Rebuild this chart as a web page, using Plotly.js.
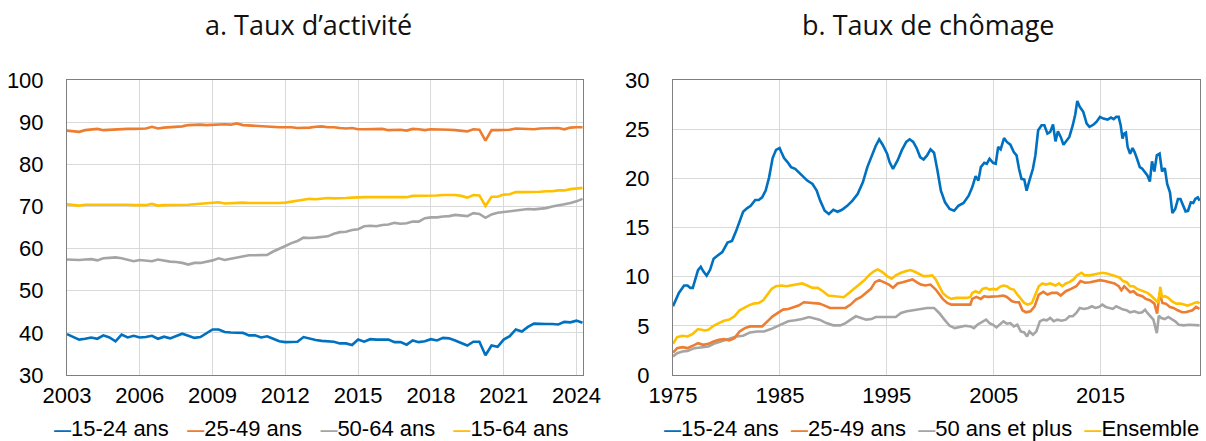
<!DOCTYPE html>
<html>
<head>
<meta charset="utf-8">
<script src="https://cdn.plot.ly/plotly-3.0.1.min.js"></script>
<style>
html,body{margin:0;padding:0;background:#fff;}
#chart{width:1206px;height:441px;}
</style>
</head>
<body>
<div id="chart"></div>
<script>
// ---------- Panel a: Taux d'activité (quarterly, 2003Q1 - 2024Q2) ----------
const actStart = 2003; // first quarter = 2003Q1
const act1524 = [39.7,39.0,38.4,38.6,38.9,38.6,39.4,38.9,38.0,39.6,38.9,39.3,38.9,39.0,39.3,38.6,39.1,38.7,39.2,39.8,39.3,38.8,39.0,39.8,40.8,40.8,40.2,40.1,40.0,40.0,39.4,39.4,38.9,39.2,38.6,38.0,37.8,37.8,37.9,39.0,38.6,38.3,38.1,38.0,37.9,37.5,37.5,37.1,38.4,37.9,38.5,38.4,38.4,38.4,37.8,37.8,37.2,38.2,37.8,38.0,38.5,38.2,38.8,38.7,38.2,37.6,37.0,37.9,37.9,34.7,37.0,36.7,38.4,39.2,40.8,40.3,41.4,42.2,42.1,42.1,42.1,42.0,42.6,42.5,42.9,42.4];
const act2549 = [88.0,87.9,87.7,88.1,88.2,88.4,88.1,88.2,88.2,88.3,88.4,88.4,88.5,88.5,88.9,88.5,88.7,88.8,88.9,89.0,89.3,89.4,89.4,89.3,89.4,89.4,89.5,89.4,89.7,89.3,89.2,89.2,89.1,88.9,88.8,88.8,88.8,88.8,88.6,88.6,88.7,88.9,89.0,88.8,88.8,88.6,88.5,88.6,88.3,88.3,88.3,88.3,88.4,88.1,88.1,88.2,88.0,88.4,88.3,88.1,88.3,88.3,88.2,88.2,88.1,88.0,87.8,88.3,88.2,85.6,88.1,88.1,88.1,88.2,88.5,88.4,88.4,88.3,88.5,88.5,88.6,88.6,88.3,88.7,88.8,88.8];
const act5064 = [57.4,57.3,57.3,57.4,57.5,57.2,57.7,57.8,57.9,57.7,57.4,57.0,57.3,57.2,57.0,57.4,57.1,56.9,56.8,56.6,56.2,56.6,56.6,56.9,57.2,57.7,57.3,57.6,57.9,58.2,58.4,58.4,58.4,58.5,59.3,59.9,60.6,61.3,61.8,62.6,62.5,62.6,62.8,62.9,63.5,63.9,64.0,64.4,64.6,65.3,65.4,65.3,65.6,65.7,66.1,65.9,66.0,66.4,66.4,67.2,67.4,67.4,67.6,67.7,68.0,67.9,67.7,68.4,68.2,67.3,68.1,68.5,68.7,68.9,69.1,69.3,69.4,69.3,69.5,69.6,70.0,70.2,70.5,70.8,71.2,71.8];
const act1564 = [70.5,70.3,70.2,70.4,70.4,70.4,70.4,70.5,70.4,70.4,70.4,70.3,70.3,70.3,70.6,70.2,70.3,70.3,70.4,70.4,70.4,70.5,70.6,70.8,70.9,71.0,70.7,70.8,70.9,70.9,70.8,70.8,70.7,70.7,70.7,70.8,70.9,71.1,71.3,71.5,71.8,71.7,71.8,72.0,71.9,71.9,72.0,72.1,72.2,72.2,72.2,72.2,72.3,72.3,72.3,72.3,72.2,72.5,72.5,72.5,72.6,72.6,72.7,72.7,72.7,72.5,72.1,72.7,72.6,70.1,72.3,72.3,72.8,72.9,73.4,73.4,73.4,73.5,73.5,73.6,73.6,73.8,73.8,74.1,74.2,74.4];
const actTicks = [2003,2006,2009,2012,2015,2018,2021,2024];

// ---------- Panel b: Taux de chômage ----------
const ch1524Year = [1975.00,1975.55,1976.04,1976.36,1976.62,1976.85,1977.34,1977.60,1977.82,1978.15,1978.47,1978.80,1979.12,1979.61,1980.10,1980.52,1980.91,1981.30,1981.56,1981.95,1982.27,1982.69,1983.02,1983.34,1983.67,1983.99,1984.32,1984.64,1984.97,1985.13,1985.39,1985.71,1986.04,1986.43,1986.75,1987.14,1987.56,1988.05,1988.44,1988.77,1989.19,1989.58,1990.00,1990.39,1990.81,1991.30,1991.79,1992.27,1992.76,1993.18,1993.57,1993.96,1994.29,1994.61,1995.03,1995.26,1995.58,1996.01,1996.40,1996.82,1997.14,1997.47,1997.79,1998.12,1998.44,1998.77,1999.09,1999.42,1999.74,2000.06,2000.45,2000.88,2001.30,2001.69,2002.18,2002.66,2002.99,2003.31,2003.57,2003.80,2004.12,2004.35,2004.61,2004.94,2005.19,2005.42,2005.65,2005.97,2006.23,2006.56,2006.88,2007.14,2007.37,2007.60,2007.86,2008.08,2008.34,2008.67,2008.90,2009.16,2009.48,2009.74,2010.03,2010.29,2010.55,2010.78,2011.01,2011.27,2011.53,2011.82,2012.08,2012.40,2012.63,2012.82,2013.05,2013.38,2013.70,2013.96,2014.35,2014.61,2014.94,2015.26,2015.65,2015.97,2016.23,2016.46,2016.69,2016.88,2017.05,2017.21,2017.37,2017.53,2017.76,2017.99,2018.18,2018.41,2018.67,2018.90,2019.12,2019.38,2019.61,2019.81,2020.03,2020.26,2020.52,2020.75,2021.01,2021.23,2021.49,2021.72,2021.98,2022.24,2022.47,2022.69,2022.95,2023.18,2023.44,2023.67,2023.86,2024.09,2024.25];
const ch1524 = [7.0,8.35,9.1,9.1,8.86,8.86,10.67,11.0,10.57,10.1,10.7,11.83,12.1,12.5,13.47,13.64,14.66,15.85,16.6,16.98,17.2,17.8,17.8,18.07,18.75,20.1,22.06,22.9,23.08,22.67,22.06,21.65,21.14,20.97,20.63,20.18,19.77,19.43,18.75,17.73,16.7,16.37,16.8,16.6,16.8,17.2,17.73,18.4,19.6,21.14,22.26,23.29,23.97,23.42,22.5,21.65,20.97,21.82,22.84,23.7,23.97,23.7,23.08,22.16,21.92,22.33,22.95,22.6,20.8,18.75,17.56,16.88,16.7,17.2,17.49,18.24,19.09,20.22,19.77,21.14,21.58,21.48,21.99,21.58,21.48,23.18,22.95,24.1,23.7,23.42,22.67,22.33,20.97,19.95,19.88,18.75,19.77,20.97,22.33,24.89,25.4,25.4,24.55,24.72,25.47,23.76,24.79,24.21,23.42,23.87,24.21,25.4,26.49,27.86,27.28,26.76,25.57,25.23,25.47,25.74,26.25,26.08,25.98,26.18,26.01,26.25,26.25,25.4,24.04,24.55,24.65,23.18,22.5,23.08,22.67,21.99,21.14,20.97,20.63,20.29,19.67,21.72,20.7,22.33,22.5,20.7,21.04,19.43,18.58,16.47,16.88,17.9,17.9,17.22,16.64,16.7,17.56,17.49,17.9,18.07,17.73];

const ch2549Year = [1975.00,1975.39,1975.88,1976.36,1976.85,1977.34,1977.82,1978.31,1978.80,1979.29,1979.77,1980.26,1980.75,1981.23,1981.72,1982.21,1982.86,1983.34,1983.83,1984.32,1984.81,1985.29,1985.78,1986.27,1986.75,1987.24,1987.73,1988.21,1988.70,1989.19,1989.68,1990.16,1990.65,1991.14,1991.62,1992.11,1992.60,1993.08,1993.51,1993.90,1994.29,1994.71,1995.19,1995.58,1996.01,1996.49,1996.98,1997.40,1997.79,1998.18,1998.60,1999.09,1999.58,1999.90,2000.23,2000.65,2001.04,2001.53,2002.01,2002.50,2002.82,2002.99,2003.38,2003.80,2004.12,2004.45,2004.94,2005.42,2005.91,2006.23,2006.72,2007.05,2007.37,2007.69,2008.02,2008.44,2008.83,2009.22,2009.64,2010.03,2010.45,2010.94,2011.27,2011.75,2012.24,2012.73,2013.12,2013.54,2014.03,2014.51,2014.94,2015.39,2015.81,2016.30,2016.69,2016.95,2017.21,2017.44,2017.76,2018.08,2018.41,2018.90,2019.22,2019.61,2020.03,2020.29,2020.52,2020.78,2021.10,2021.49,2021.82,2022.21,2022.63,2022.95,2023.28,2023.60,2023.93,2024.25];
const ch2549 = [2.28,2.73,2.83,2.73,2.97,3.24,3.07,3.17,3.41,3.58,3.65,3.51,3.75,4.43,4.77,4.94,4.94,4.94,5.46,5.97,6.31,6.65,6.72,6.92,7.06,7.4,7.33,7.26,7.26,7.06,6.82,6.82,6.82,6.82,7.16,7.67,7.94,8.42,8.76,9.44,9.65,9.44,9.2,8.86,9.31,9.44,9.61,9.72,9.44,9.2,9.1,9.2,8.69,8.18,7.74,7.33,7.16,7.16,7.16,7.16,7.16,7.74,7.94,7.74,8.01,7.94,7.94,8.01,8.08,7.94,7.5,7.4,7.4,6.58,6.38,6.48,6.99,8.18,8.46,8.18,8.35,8.35,8.08,8.52,8.76,9.03,9.55,9.38,9.44,9.55,9.65,9.55,9.44,9.31,9.03,8.63,9.03,8.76,8.42,8.52,8.18,8.01,7.74,7.6,7.26,6.24,8.35,7.33,7.26,6.92,6.82,6.58,6.38,6.38,6.48,6.58,6.92,6.72];

const ch50pYear = [1975.00,1975.39,1975.88,1976.36,1977.01,1977.66,1978.31,1978.96,1979.61,1980.26,1980.91,1981.56,1982.21,1982.86,1983.51,1984.16,1984.81,1985.29,1985.78,1986.43,1987.08,1987.73,1988.21,1988.70,1989.35,1990.00,1990.65,1991.14,1991.62,1992.11,1992.60,1993.08,1993.57,1993.96,1994.55,1995.19,1995.84,1996.33,1996.88,1997.47,1998.12,1998.77,1999.42,1999.90,2000.39,2000.88,2001.36,2001.85,2002.34,2002.82,2003.15,2003.47,2003.96,2004.29,2004.61,2004.94,2005.26,2005.58,2005.91,2006.23,2006.56,2006.88,2007.21,2007.53,2007.86,2008.12,2008.34,2008.67,2008.99,2009.32,2009.64,2009.97,2010.29,2010.62,2010.94,2011.36,2011.75,2012.08,2012.40,2012.73,2013.05,2013.44,2013.86,2014.19,2014.51,2014.84,2015.16,2015.49,2015.81,2016.14,2016.46,2016.79,2017.11,2017.44,2017.76,2018.18,2018.57,2018.90,2019.16,2019.38,2019.71,2019.94,2020.26,2020.45,2020.68,2021.01,2021.33,2021.66,2021.98,2022.31,2022.79,2023.28,2023.77,2024.25];
const ch50p = [1.88,2.22,2.39,2.45,2.73,2.83,2.9,3.24,3.48,3.65,3.92,3.99,4.33,4.43,4.43,4.67,5.01,5.28,5.46,5.56,5.69,5.9,5.8,5.63,5.28,5.05,5.05,5.28,5.63,5.97,5.8,5.63,5.69,5.9,5.9,5.9,5.9,6.31,6.48,6.58,6.72,6.82,6.82,6.31,5.63,5.01,4.77,4.88,5.01,4.94,4.77,5.11,5.46,5.63,5.28,5.11,4.84,5.11,5.46,5.22,5.28,4.94,5.11,4.43,4.33,3.92,4.43,4.09,4.43,5.46,5.63,5.56,5.8,5.46,5.63,5.52,5.63,5.97,5.97,6.31,6.82,6.72,6.82,6.99,6.82,6.92,7.16,6.92,6.82,6.72,6.99,6.82,6.65,6.58,6.38,6.48,6.31,6.38,6.65,6.31,5.97,5.63,4.26,6.03,5.8,5.69,5.9,5.69,5.46,5.11,5.05,5.11,5.05,5.05];

const chEnsYear = [1975.00,1975.39,1975.88,1976.36,1976.85,1977.34,1977.66,1977.99,1978.31,1978.80,1979.29,1979.77,1980.26,1980.75,1981.23,1981.62,1982.05,1982.53,1983.02,1983.44,1983.83,1984.22,1984.64,1985.13,1985.62,1986.10,1986.59,1987.08,1987.56,1988.05,1988.54,1989.03,1989.51,1990.00,1990.49,1990.97,1991.46,1991.95,1992.44,1992.92,1993.41,1993.83,1994.16,1994.55,1995.03,1995.45,1995.84,1996.33,1996.82,1997.21,1997.63,1998.05,1998.44,1998.83,1999.25,1999.58,1999.90,2000.23,2000.65,2001.04,2001.53,2002.01,2002.50,2002.82,2002.99,2003.31,2003.64,2003.96,2004.29,2004.61,2004.94,2005.26,2005.58,2005.91,2006.23,2006.56,2006.88,2007.21,2007.53,2007.86,2008.18,2008.57,2008.90,2009.22,2009.55,2009.87,2010.29,2010.78,2011.10,2011.43,2011.75,2012.08,2012.47,2012.79,2013.21,2013.54,2013.96,2014.35,2014.74,2015.16,2015.58,2015.97,2016.36,2016.79,2017.11,2017.44,2017.76,2018.08,2018.41,2018.73,2019.06,2019.38,2019.71,2020.03,2020.26,2020.42,2020.58,2020.75,2021.01,2021.33,2021.66,2022.08,2022.47,2022.79,2023.12,2023.44,2023.77,2024.09,2024.25];
const chEns = [3.17,3.85,3.99,3.92,4.19,4.67,4.6,4.53,4.6,5.01,5.28,5.52,5.63,5.97,6.58,6.82,7.06,7.26,7.33,7.6,8.18,8.76,9.03,9.1,9.03,9.1,9.2,9.31,9.1,8.86,8.86,8.52,8.08,8.01,8.01,7.91,8.35,8.76,9.2,9.65,10.23,10.57,10.74,10.5,10.06,9.79,10.13,10.4,10.57,10.67,10.5,10.23,10.06,10.06,10.13,9.72,9.03,8.35,7.94,7.74,7.84,7.84,7.84,7.94,8.35,8.52,8.35,8.76,8.86,8.69,8.76,8.69,8.97,9.1,9.03,8.76,8.69,8.18,7.74,7.33,7.16,7.33,8.18,9.03,9.31,9.2,9.31,9.1,9.31,9.03,9.31,9.44,9.72,10.13,10.4,10.13,10.13,10.23,10.33,10.4,10.33,10.23,10.06,9.89,9.55,9.44,9.03,9.03,8.76,8.63,8.52,8.35,8.08,7.74,7.6,7.33,8.97,7.94,8.01,7.84,7.5,7.26,7.26,7.16,7.06,7.16,7.33,7.4,7.26];
const chTicks = [1975,1985,1995,2005,2015];

// ---------- Labels & colours ----------
const titleA = "a. Taux d\u2019activit\u00e9";
const titleB = "b. Taux de ch\u00f4mage";
const namesA = ["15-24 ans","25-49 ans","50-64 ans","15-64 ans"];
const namesB = ["15-24 ans","25-49 ans","50 ans et plus","Ensemble"];
const colors = ["#0070C0","#ED7D31","#A5A5A5","#FFC000"];

const actX = act1524.map((_, i) => actStart + i / 4);
const actSeries = [act1524, act2549, act5064, act1564];
const chSeries = [[ch1524Year, ch1524],[ch2549Year, ch2549],[ch50pYear, ch50p],[chEnsYear, chEns]];

const traces = [];
[2,1,3,0].forEach(k => {
  traces.push({x: actX, y: actSeries[k], type:'scatter', mode:'lines', name: namesA[k],
    line:{color: colors[k], width: 2.6}, xaxis:'x', yaxis:'y', showlegend:false, hoverinfo:'skip'});
});
[2,1,3,0].forEach(k => {
  traces.push({x: chSeries[k][0], y: chSeries[k][1], type:'scatter', mode:'lines', name: namesB[k],
    line:{color: colors[k], width: 2.6}, xaxis:'x2', yaxis:'y2', showlegend:false, hoverinfo:'skip'});
});

const W = 1206, H = 441;
const tickFont = {family: "Liberation Sans, Arial, sans-serif", size: 22, color: "#000"};
const titleFont = {family: "Open Sans, Noto Sans, sans-serif", size: 27, color: "#111"};
const axisCommon = {
  showline: true, mirror: true, linecolor: "#7f7f7f", linewidth: 1,
  showgrid: true, gridcolor: "#d9d9d9", gridwidth: 1,
  zeroline: false, ticks: "", tickfont: tickFont, fixedrange: true
};
const yDom = [1 - 375 / H, 1 - 80 / H];

function legendText(names, gap) {
  return names.map((n, k) =>
    '<span style="color:' + colors[k] + ';font-size:17px;font-weight:bold">\u2014</span>' + n
  ).join(gap);
}

const layout = {
  width: W, height: H,
  margin: {l: 0, r: 0, t: 0, b: 0},
  paper_bgcolor: "#fff", plot_bgcolor: "#fff",
  showlegend: false,
  xaxis: Object.assign({}, axisCommon, {domain: [67 / W, 583 / W], range: [2003, 2024.27],
    tickvals: actTicks, ticktext: actTicks.map(String), anchor: 'y', ticklabelstandoff: 1}),
  yaxis: Object.assign({}, axisCommon, {domain: yDom, range: [30, 100], dtick: 10, tick0: 30,
    anchor: 'x', ticklabelstandoff: 18}),
  xaxis2: Object.assign({}, axisCommon, {domain: [673 / W, 1200 / W], range: [1975, 2024.3],
    tickvals: chTicks, ticktext: chTicks.map(String), anchor: 'y2', ticklabelstandoff: 1}),
  yaxis2: Object.assign({}, axisCommon, {domain: yDom, range: [0, 30], dtick: 5, tick0: 0,
    anchor: 'x2', ticklabelstandoff: 18}),
  annotations: [
    {text: titleA, xref: 'paper', yref: 'paper', x: 308 / W, y: 1 - 25 / H, xanchor: 'center', yanchor: 'middle',
     showarrow: false, font: titleFont},
    {text: titleB, xref: 'paper', yref: 'paper', x: 928 / W, y: 1 - 25 / H, xanchor: 'center', yanchor: 'middle',
     showarrow: false, font: titleFont},
    {text: legendText(namesA, '\u00a0\u00a0\u00a0'), xref: 'paper', yref: 'paper', x: 311 / W, y: 1 - 428 / H, xanchor: 'center', yanchor: 'middle',
     showarrow: false, font: tickFont},
    {text: legendText(namesB, '\u00a0\u00a0'), xref: 'paper', yref: 'paper', x: 931 / W, y: 1 - 428 / H, xanchor: 'center', yanchor: 'middle',
     showarrow: false, font: tickFont}
  ]
};

Plotly.newPlot('chart', traces, layout, {displayModeBar: false, staticPlot: true});
</script>
</body>
</html>
